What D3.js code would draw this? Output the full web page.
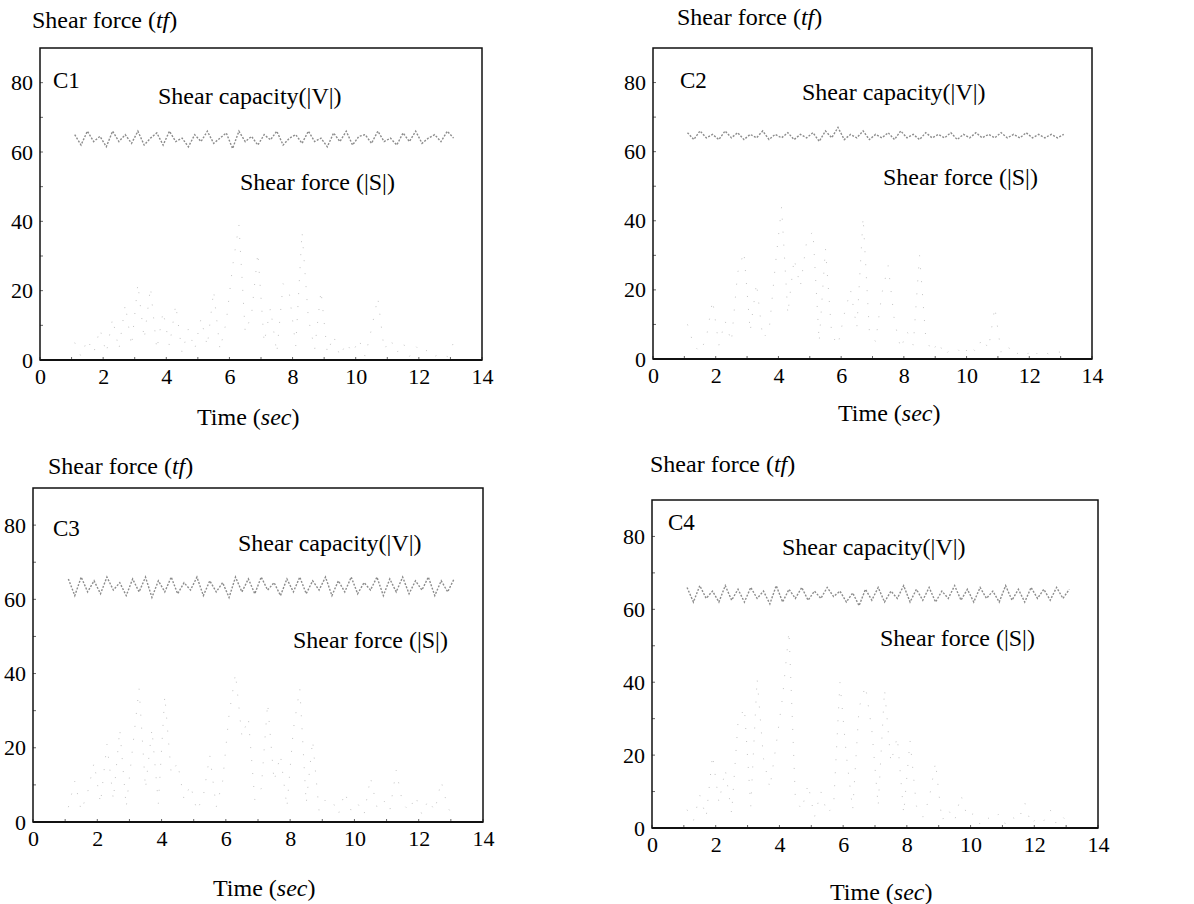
<!DOCTYPE html>
<html>
<head>
<meta charset="utf-8">
<script src="https://cdn.jsdelivr.net/npm/d3@7"></script>
<style>
    body { margin: 0; background: #fff; }
    text { font-family: "Liberation Serif", "Times New Roman", serif; fill: #000; }
</style>
</head>
<body>
<svg id="chart" width="1194" height="904"></svg>
<script>
// sample grid of the time histories (sec)
var tStart = 1.1,
    tStep = 0.2;

var xTicks = [0, 2, 4, 6, 8, 10, 12, 14];
var yTicks = [0, 20, 40, 60, 80];
var panelNames = ["C1", "C2", "C3", "C4"];

// shear capacity |V| (tf)
var capacityC1 = [65, 62, 66, 63, 64.5, 61.5, 66, 63, 65, 62.5, 66, 62, 64, 65.5, 62, 66, 63, 64, 61.5, 65, 63, 66, 62.5, 64,
    65.5, 61, 66, 63, 64.5, 62, 65, 63.5, 66, 62, 64, 65, 62.5, 66, 63, 64, 61.5, 65.5, 63, 66, 62, 64.5, 65, 62.5, 66, 63,
    64, 62, 65.5, 63, 66, 62.5, 64, 65, 63, 66, 64];
var capacityC2 = [65.5, 63.5, 66, 64, 65, 63.5, 66, 64, 65.5, 63.5, 65, 64, 66, 63.5, 65, 64, 65.5, 63.5, 65, 64, 65.5, 63, 66,
    64, 67, 63.5, 65, 64, 66, 63.5, 65, 64, 65.5, 63.5, 66, 64, 65, 63.5, 65.5, 64, 65, 64, 65.5, 63.5, 65, 64, 65.5, 64, 65,
    64, 65.5, 64, 65, 64, 65.5, 64, 65, 64, 65, 64, 65];
var capacityC3 = [65.5, 61, 66, 62, 65, 61.5, 66, 62.5, 64.5, 61, 65.5, 62, 66, 60.5, 65, 62, 66, 61.5, 64.5, 62.5, 66, 61,
    65, 62, 64.5, 60.5, 66, 62, 65.5, 61.5, 66, 62.5, 64.5, 61, 65.5, 62, 66, 61.5, 65, 62.5, 66, 61, 65, 62, 66, 61.5, 64.5,
    62.5, 66, 61, 65.5, 62, 66, 61.5, 65, 62.5, 66, 61, 65, 62, 65.5];
var capacityC4 = [66, 62, 66.5, 63, 65, 62, 66.5, 62.5, 65.5, 62, 66, 63, 65, 61.5, 66.5, 62, 65.5, 63, 66, 62.5, 65, 63,
    66, 63.5, 65, 62, 64.5, 61, 65.5, 62.5, 66, 62, 65, 63, 66.5, 62, 65.5, 62.5, 66, 62, 65, 63, 66.5, 62.5, 65.5, 62, 66,
    63, 65, 62, 66.5, 62.5, 65.5, 62, 66, 63, 65.5, 62.5, 66, 63, 65.5];

// shear force |S| (tf)
var forceC1 = [5, 1, 6, 2, 9, 2, 12, 3, 16, 4, 22, 6, 21, 3, 14, 4, 16, 2, 9, 3, 12, 4, 20, 3, 11, 27, 39, 8, 13, 31, 5,
    15, 2, 22, 19, 4, 37, 12, 3, 20, 2, 7, 1, 5, 2, 6, 1, 9, 18, 3, 6, 2, 5, 1, 4, 2, 3, 1, 2, 1, 5];
var forceC2 = [10, 4, 2, 6, 17, 4, 11, 5, 25, 31, 8, 22, 6, 8, 27, 44, 13, 29, 21, 34, 37, 5, 32, 7, 4, 13, 20, 9, 41, 8,
    5, 19, 27, 11, 3, 8, 4, 30, 6, 2, 5, 1, 3, 3, 1, 4, 2, 6, 3, 15, 2, 4, 1, 2, 1, 3, 1, 2, 1, 2, 2];
var forceC3 = [4, 11, 3, 8, 16, 5, 21, 6, 25, 4, 20, 36, 9, 25, 5, 34, 13, 16, 6, 10, 3, 7, 18, 4, 11, 29, 40, 23, 28, 6,
    9, 32, 11, 18, 4, 25, 36, 5, 22, 3, 6, 6, 2, 8, 3, 5, 2, 12, 4, 6, 3, 14, 5, 3, 7, 2, 6, 3, 11, 4, 1];
var forceC4 = [5, 2, 9, 3, 20, 7, 16, 4, 29, 33, 6, 41, 19, 11, 23, 36, 54, 8, 5, 12, 3, 10, 4, 6, 40, 20, 5, 33, 39, 27,
    6, 38, 18, 25, 4, 24, 6, 3, 8, 18, 2, 5, 2, 9, 3, 4, 1, 3, 2, 4, 1, 3, 2, 7, 1, 3, 2, 5, 1, 3, 1];

// page layout of the four frames
var panels = [
    { name: panelNames[0], capacity: capacityC1, force: forceC1,
      left: 40, right: 482, top: 48, bottom: 360,
      title: [32, 20], tag: [53, 80], cap: [158, 96], frc: [240, 182], time: [197, 417] },
    { name: panelNames[1], capacity: capacityC2, force: forceC2,
      left: 653, right: 1092, top: 48, bottom: 359,
      title: [677, 17], tag: [680, 80], cap: [802, 92], frc: [883, 177], time: [838, 413] },
    { name: panelNames[2], capacity: capacityC3, force: forceC3,
      left: 33, right: 483, top: 488, bottom: 822,
      title: [48, 466], tag: [53, 528], cap: [238, 543], frc: [293, 640], time: [213, 888] },
    { name: panelNames[3], capacity: capacityC4, force: forceC4,
      left: 652, right: 1098, top: 500, bottom: 828,
      title: [650, 464], tag: [668, 522], cap: [782, 547], frc: [880, 638], time: [830, 892] }
];

var svg = d3.select("#chart");

function toPoints(values) {
    return values.map(function(v, i) {
        return [tStart + i * tStep, v];
    });
}

function addLabel(g, pos, size, parts) {
    var t = g.append("text")
        .attr("x", pos[0])
        .attr("y", pos[1])
        .attr("dy", "0.35em")
        .attr("font-size", size);
    parts.forEach(function(p) {
        t.append("tspan")
            .attr("font-style", p[1] ? "italic" : "normal")
            .text(p[0]);
    });
}

panels.forEach(function(p) {
    var g = svg.append("g");

    var xScale = d3.scaleLinear().domain([0, 14]).range([p.left, p.right]);
    var yScale = d3.scaleLinear().domain([0, 90]).range([p.bottom, p.top]);

    var line = d3.line()
        .x(function(d) { return xScale(d[0]); })
        .y(function(d) { return yScale(d[1]); });

    // traces are very faint in the original print, only specks survive
    g.append("path")
        .datum(toPoints(p.force))
        .attr("fill", "none")
        .attr("stroke", "#c4c4c4")
        .attr("stroke-width", 1)
        .attr("stroke-dasharray", "1 12")
        .attr("d", line);

    g.append("path")
        .datum(toPoints(p.capacity))
        .attr("fill", "none")
        .attr("stroke", "#8c8c8c")
        .attr("stroke-width", 1.4)
        .attr("stroke-dasharray", "2 1.5")
        .attr("d", line);

    // small inward ticks
    var minorY = d3.range(0, 90, 10);
    var minorX = d3.range(0, 15, 1);
    g.selectAll(".ty").data(minorY).enter().append("line")
        .attr("x1", p.left).attr("x2", p.left + 3)
        .attr("y1", function(d) { return yScale(d); })
        .attr("y2", function(d) { return yScale(d); })
        .attr("stroke", "#666");
    g.selectAll(".tx").data(minorX).enter().append("line")
        .attr("x1", function(d) { return xScale(d); })
        .attr("x2", function(d) { return xScale(d); })
        .attr("y1", p.bottom).attr("y2", p.bottom - 3)
        .attr("stroke", "#666");

    // frame
    g.append("rect")
        .attr("x", p.left)
        .attr("y", p.top)
        .attr("width", p.right - p.left)
        .attr("height", p.bottom - p.top)
        .attr("fill", "none")
        .attr("stroke", "#111")
        .attr("stroke-width", 1.5);

    g.append("line")
        .attr("x1", p.left).attr("x2", p.right)
        .attr("y1", p.bottom).attr("y2", p.bottom)
        .attr("stroke", "#111")
        .attr("stroke-width", 2.2);

    var xAxis = d3.axisBottom(xScale).tickValues(xTicks).tickSize(0).tickPadding(8);
    var yAxis = d3.axisLeft(yScale).tickValues(yTicks).tickSize(0).tickPadding(7);

    var gx = g.append("g")
        .attr("transform", "translate(0," + p.bottom + ")")
        .call(xAxis);
    var gy = g.append("g")
        .attr("transform", "translate(" + p.left + ",0)")
        .call(yAxis);

    [gx, gy].forEach(function(a) {
        a.select(".domain").remove();
        a.attr("font-family", null).attr("font-size", 22);
        a.selectAll("text").attr("fill", "#000");
    });

    addLabel(g, p.title, 24, [["Shear force (", false], ["tf", true], [")", false]]);
    addLabel(g, p.tag, 23, [[p.name, false]]);
    addLabel(g, p.cap, 24, [["Shear capacity(|V|)", false]]);
    addLabel(g, p.frc, 24, [["Shear force (|S|)", false]]);
    addLabel(g, p.time, 24, [["Time (", false], ["sec", true], [")", false]]);
});
</script>
</body>
</html>
